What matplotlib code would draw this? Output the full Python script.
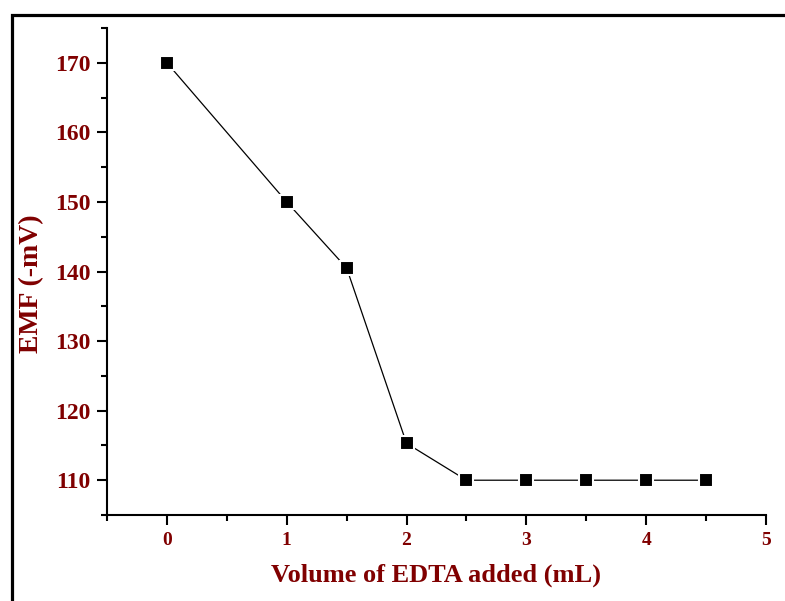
import matplotlib.pyplot as plt
from matplotlib.patches import Rectangle
from matplotlib.ticker import MultipleLocator

# data
volume = [0, 1, 1.5, 2, 2.5, 3, 3.5, 4, 4.5]
emf = [170, 150, 140.5, 115.3, 110, 110, 110, 110, 110]

x_ticks = [0, 1, 2, 3, 4, 5]
y_ticks = [110, 120, 130, 140, 150, 160, 170]

red = '#800000'
plt.rcParams['font.family'] = ['Liberation Serif', 'DejaVu Serif']
plt.rcParams['font.weight'] = 'bold'

fig = plt.figure(figsize=(7.85, 6.01), dpi=100)
ax = fig.add_axes([0.1363, 0.1431, 0.8395, 0.8103])

# outer frame (only left and top edges show)
fig.add_artist(Rectangle((11.5 / 785, -0.2), 1.5, 1.2 - 14.5 / 601,
                         transform=fig.transFigure, fill=False,
                         edgecolor='black', linewidth=2.3))

ax.plot(volume, emf, color='black', linewidth=0.9, zorder=2)
ax.plot(volume, emf, linestyle='none', marker='s', markersize=9.8,
        markerfacecolor='black', markeredgecolor='white',
        markeredgewidth=1.5, zorder=3)

ax.set_xlim(-0.5, 5)
ax.set_ylim(105, 175)
ax.set_xticks(x_ticks)
ax.set_yticks(y_ticks)
ax.xaxis.set_minor_locator(MultipleLocator(0.5))
ax.yaxis.set_minor_locator(MultipleLocator(5))

for side in ['top', 'right']:
    ax.spines[side].set_visible(False)
for side in ['left', 'bottom']:
    ax.spines[side].set_linewidth(1.5)

ax.tick_params(which='major', direction='out', length=7, width=1.5)
ax.tick_params(which='minor', direction='out', length=4, width=1.5)
ax.tick_params(axis='x', which='major', labelsize=14, labelcolor=red, pad=5)
ax.tick_params(axis='y', which='major', labelsize=17, labelcolor=red, pad=5)
for lab in ax.get_xticklabels() + ax.get_yticklabels():
    lab.set_fontweight('bold')

ax.set_xlabel('Volume of EDTA added (mL)', fontsize=19, fontweight='bold',
              color=red, labelpad=11)
ax.set_ylabel('EMF (-mV)', fontsize=20, fontweight='bold', color=red)
ax.yaxis.set_label_coords(-0.095, 0.476)

fig.savefig('out.png', dpi=100)
